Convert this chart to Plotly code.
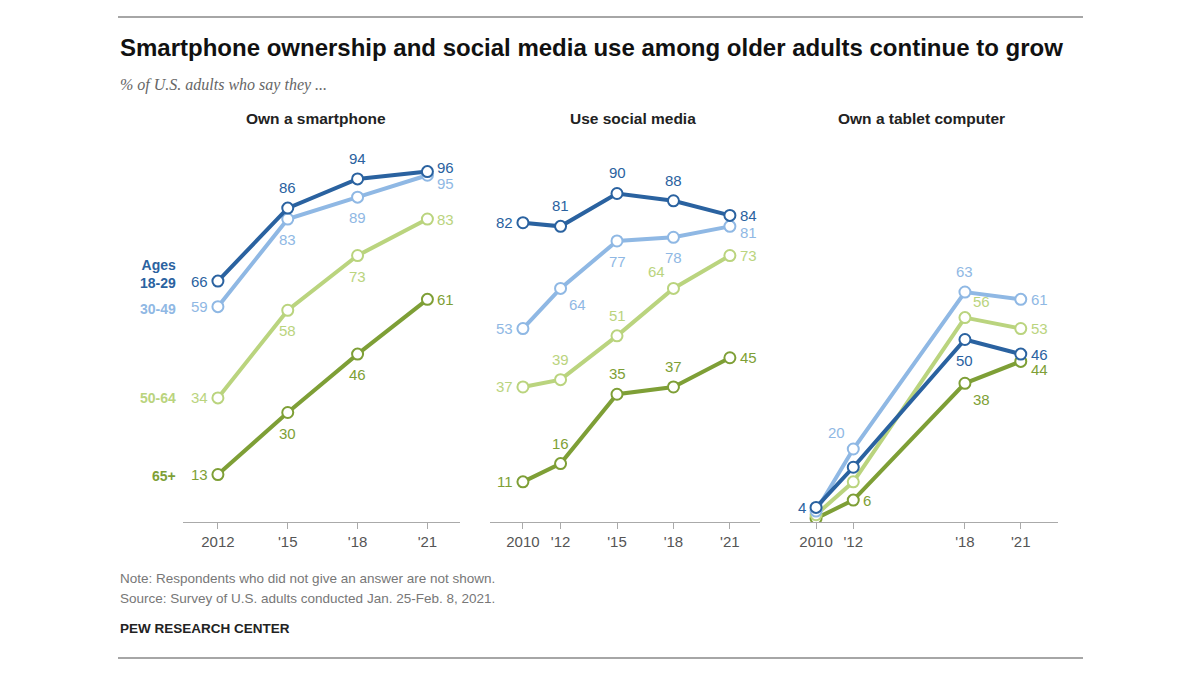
import plotly.graph_objects as go

groups = ["18-29", "30-49", "50-64", "65+"]
colors = {"18-29": "#2a62a0", "30-49": "#8fb8e4", "50-64": "#bad47e", "65+": "#7e9f36"}

phone_years = [2012, 2015, 2018, 2021]
phone = {"18-29": [66, 86, 94, 96], "30-49": [59, 83, 89, 95],
         "50-64": [34, 58, 73, 83], "65+": [13, 30, 46, 61]}
social_years = [2010, 2012, 2015, 2018, 2021]
social = {"18-29": [82, 81, 90, 88, 84], "30-49": [53, 64, 77, 78, 81],
          "50-64": [37, 39, 51, 64, 73], "65+": [11, 16, 35, 37, 45]}
tablet_years = [2010, 2012, 2018, 2021]
tablet = {"18-29": [4, 15, 50, 46], "30-49": [3, 20, 63, 61],
          "50-64": [2, 11, 56, 53], "65+": [1, 6, 38, 44]}

phone_ticks = ["2012", "'15", "'18", "'21"]
social_ticks = ["2010", "'12", "'15", "'18", "'21"]
tablet_ticks = ["2010", "'12", "'18", "'21"]

# label positions (style)
phone_pos = {"18-29": ["left", "top", "top", "righthigh"], "30-49": ["left", "bottom", "bottom", "rightlow"],
             "50-64": ["left", "bottom", "bottom", "right"], "65+": ["left", "bottom", "bottom", "right"]}
social_pos = {"18-29": ["left", "top", "top", "top", "right"],
              "30-49": ["left", "bottomright", "bottom", "bottom", "rightlow2"],
              "50-64": ["left", "top", "top", "topleft", "right"],
              "65+": ["left", "top", "top", "top", "right"]}
tablet_pos = {"18-29": ["left", None, "bottom", "right"], "30-49": [None, "topleft", "top", "right"],
              "50-64": [None, None, "topright", "right"], "65+": [None, "right", "bottomright", "rightlow"]}

H = 675.0
W = 1200.0
O = 8  # page body margin offset
def py(p): return 1 - (p - O) / H
def px(p): return (p - O) / W
ydom = [py(522), py(157)]
panels = [
    (phone_years, phone, phone_ticks, phone_pos, [px(183), px(460)], [2010.5, 2022.4], "Own a smartphone", 316),
    (social_years, social, social_ticks, social_pos, [px(490), px(760)], [2008.25, 2022.6], "Use social media", 633),
    (tablet_years, tablet, tablet_ticks, tablet_pos, [px(790), px(1058)], [2008.6, 2023.0], "Own a tablet computer", 921),
]

fig = go.Figure()
annotations = []
offs = {"left": (-8, 0, "right", "middle"), "right": (8, 0, "left", "middle"),
        "top": (0, 10, "center", "bottom"), "bottom": (0, -10, "center", "top"),
        "bottomright": (6, -6, "left", "top"), "topleft": (-6, 6, "right", "bottom"),
        "topright": (6, 6, "left", "bottom"),
        "righthigh": (8, 4, "left", "middle"), "rightlow": (8, -8, "left", "middle"),
        "rightlow2": (8, -6, "left", "middle")}
for i, (yrs, data, ticks, pos, dom, rng, title, tc) in enumerate(panels):
    ax = "" if i == 0 else str(i + 1)
    for g in reversed(groups):
        fig.add_trace(go.Scatter(x=yrs, y=data[g], mode="lines+markers", xaxis="x" + ax, yaxis="y" + ax,
                                 line=dict(color=colors[g], width=4),
                                 marker=dict(size=11, color="white", line=dict(color=colors[g], width=2)),
                                 showlegend=False, hoverinfo="skip"))
        for x, y, p in zip(yrs, data[g], pos[g]):
            if p is None:
                continue
            dx, dy, xa, ya = offs[p]
            annotations.append(dict(x=x, y=y, xref="x" + ax, yref="y" + ax, text=str(y), showarrow=False,
                                    xshift=dx, yshift=dy, xanchor=xa, yanchor=ya,
                                    font=dict(size=15, color=colors[g], family="Liberation Sans")))
    fig.update_layout({
        "xaxis" + ax: dict(domain=dom, range=rng, tickvals=yrs, ticktext=ticks, showgrid=False, zeroline=False,
                           showline=True, linecolor="#aaaaaa", ticks="outside", tickcolor="#aaaaaa", ticklen=6,
                           anchor="y" + ax, tickfont=dict(size=15, color="#555555", family="Liberation Sans")),
        "yaxis" + ax: dict(domain=ydom, range=[0, 100], visible=False, anchor="x" + ax),
    })
    annotations.append(dict(x=px(tc), y=py(118), xref="paper", yref="paper", text="<b>" + title + "</b>",
                            xanchor="center", yanchor="middle", showarrow=False,
                            font=dict(size=15.5, color="#222222", family="Liberation Sans")))

legend_items = [("<b>Ages<br>18-29</b>", "18-29", 274), ("<b>30-49</b>", "30-49", 309),
                ("<b>50-64</b>", "50-64", 398), ("<b>65+</b>", "65+", 476)]
for t, g, p in legend_items:
    annotations.append(dict(x=px(178), y=py(p), xref="paper", yref="paper", text=t, showarrow=False,
                            xanchor="right", yanchor="middle", align="right",
                            font=dict(size=14, color=colors[g], family="Liberation Sans")))

annotations += [
    dict(x=px(118), y=py(48), xref="paper", yref="paper", xanchor="left", yanchor="middle", showarrow=False,
         text="<b>Smartphone ownership and social media use among older adults continue to grow</b>",
         font=dict(size=24, color="#111111", family="Liberation Sans Narrow, Liberation Sans")),
    dict(x=px(118), y=py(85), xref="paper", yref="paper", xanchor="left", yanchor="middle", showarrow=False,
         text="<i>% of U.S. adults who say they ...</i>", font=dict(size=16, color="#666666", family="Liberation Serif")),
    dict(x=px(118), y=py(578), xref="paper", yref="paper", xanchor="left", yanchor="middle", showarrow=False,
         text="Note: Respondents who did not give an answer are not shown.",
         font=dict(size=13.5, color="#777777", family="Liberation Sans")),
    dict(x=px(118), y=py(598), xref="paper", yref="paper", xanchor="left", yanchor="middle", showarrow=False,
         text="Source: Survey of U.S. adults conducted Jan. 25-Feb. 8, 2021.",
         font=dict(size=13.5, color="#777777", family="Liberation Sans")),
    dict(x=px(118), y=py(628), xref="paper", yref="paper", xanchor="left", yanchor="middle", showarrow=False,
         text="<b>PEW RESEARCH CENTER</b>", font=dict(size=13.5, color="#222222", family="Liberation Sans")),
]
fig.update_layout(
    width=1200, height=675, margin=dict(l=0, r=0, t=0, b=0),
    plot_bgcolor="white", paper_bgcolor="white", annotations=annotations,
    shapes=[dict(type="line", xref="paper", yref="paper", x0=px(118), x1=px(1083), y0=py(17), y1=py(17),
                 line=dict(color="#888888", width=1.5)),
            dict(type="line", xref="paper", yref="paper", x0=px(118), x1=px(1083), y0=py(658), y1=py(658),
                 line=dict(color="#888888", width=1.5))],
)
fig.write_html("out.html")
